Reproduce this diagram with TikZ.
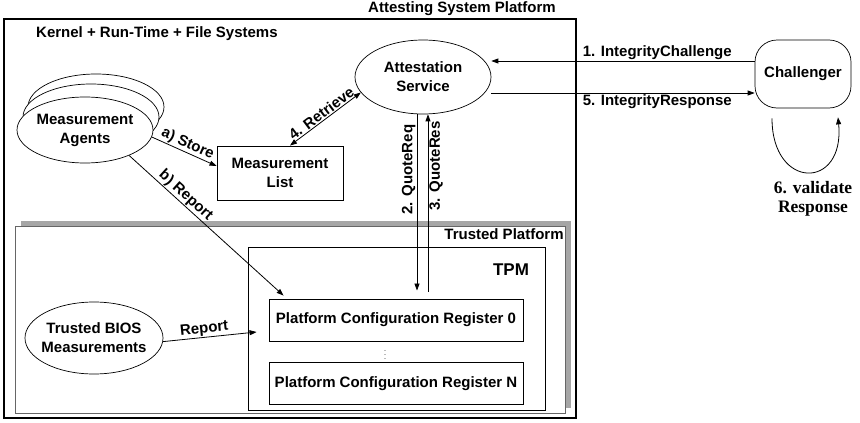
\documentclass[tikz,border=0pt]{standalone}
\usepackage{fontspec}
\setmainfont{Liberation Sans}
\newfontfamily\serifbold{Liberation Serif}
\usetikzlibrary{arrows.meta, positioning, shapes.geometric, shadows}

\begin{document}
\begin{tikzpicture}[
  x=1pt, y=-1pt,
  >={Triangle[length=7pt,width=5pt]},
  every node/.style={align=center, inner sep=1pt, font=\fontsize{15}{19}\selectfont\bfseries},
  agent/.style={ellipse, draw, fill=white, line width=0.7pt, inner xsep=-4pt},
  regbox/.style={draw, line width=0.9pt, minimum width=254pt, minimum height=42pt},
  conn/.style={line width=0.8pt}
]
\useasboundingbox (0,0) rectangle (860,423);

% attesting system platform
\node[draw, line width=2pt, minimum width=572pt, minimum height=399pt] (asp) at (290,218.5) {};
\node (aspl) at (462,9) {Attesting System Platform};
\node[anchor=west] (krn) at (35,34) {Kernel + Run-Time + File Systems};

\node[agent, minimum width=136pt, minimum height=66pt] (ma3) at (96,107) {};
\node[agent, minimum width=136pt, minimum height=66pt] (ma2) at (91,117) {};
\node[agent, minimum width=136pt, minimum height=66pt] (ma) at (85,130) {Measurement\\Agents};
\node[draw, line width=0.9pt, minimum width=126pt, minimum height=54pt] (ml) at (280,173) {Measurement\\List};
\node[agent, minimum width=136pt, minimum height=74pt] (att) at (423,77) {Attestation\\Service};

% challenger
\node[draw, line width=0.7pt, rounded corners=22pt, minimum width=96pt, minimum height=68pt] (chal) at (803,74) {Challenger};
\node[font=\fontsize{17.5}{19}\serifbold\bfseries] (val) at (813,199) {6. validate\\Response};

% trusted platform
\node[draw=gray!80!black, line width=0.6pt, fill=white, minimum width=550pt, minimum height=187pt,
  drop shadow={shadow xshift=6pt, shadow yshift=5pt, fill=gray!70, opacity=1}] (tp) at (290,319.5) {};
\node (tpl) at (504,234) {Trusted Platform};
\node[draw, line width=0.8pt, minimum width=297pt, minimum height=163pt] (tpm) at (396.5,328.5) {};
\node[font=\fontsize{17}{19}\selectfont\bfseries] (tpml) at (511,270) {TPM};
\node[regbox] (pcr0) at (396,320) {Platform Configuration Register 0};
\node[regbox] (pcrn) at (396,383.5) {Platform Configuration Register N};
\node[font=\fontsize{9}{9}\selectfont, text=gray!70!black] (dots) at (385,352) {$\vdots$};
\node[agent, minimum width=138pt, minimum height=72pt] (bios) at (94,338) {Trusted BIOS\\Measurements};

% connectors
\draw[conn, ->] (ma.-6) -- ([yshift=7pt]ml.west) node[midway, above, sloped] {a) Store};
\draw[conn, ->] (ma.-30) -- ([xshift=15pt,yshift=3pt]pcr0.north west) node[pos=0.33, above, sloped] {b) Report};
\draw[conn, <->] ([xshift=10pt]ml.north) -- (att.194) node[midway, above, sloped] {4. Retrieve};
\draw[conn, ->] (bios.-3) -- ([xshift=-12pt,yshift=-12pt]pcr0.west) node[pos=0.45, above, sloped] {Report};
\draw[conn, ->, shorten >=8pt] ([xshift=-6pt]att.south) -- ([xshift=-6pt]att.south |- pcr0.north)
  node[pos=0.3, rotate=90, anchor=south] {2. QuoteReq};
\draw[conn, ->, shorten <=7pt] ([xshift=5pt]att.south |- pcr0.north) -- ([xshift=5pt]att.south)
  node[pos=0.72, rotate=90, anchor=north] {3. QuoteRes};
\draw[conn, ->] ([yshift=13pt]chal.west) -- ([yshift=13pt]chal.west -| att.east)
  node[pos=0.37, above] {1. IntegrityChallenge};
\draw[conn, ->] ([yshift=-16pt]att.east) -- ([yshift=-16pt]att.east -| chal.west)
  node[pos=0.63, below] {5. IntegrityResponse};
\draw[conn, ->] ([xshift=-31pt,yshift=-10pt]chal.south) .. controls +(0,72) and +(7,73) .. ([xshift=35pt,yshift=-9pt]chal.south);
\end{tikzpicture}
\end{document}
